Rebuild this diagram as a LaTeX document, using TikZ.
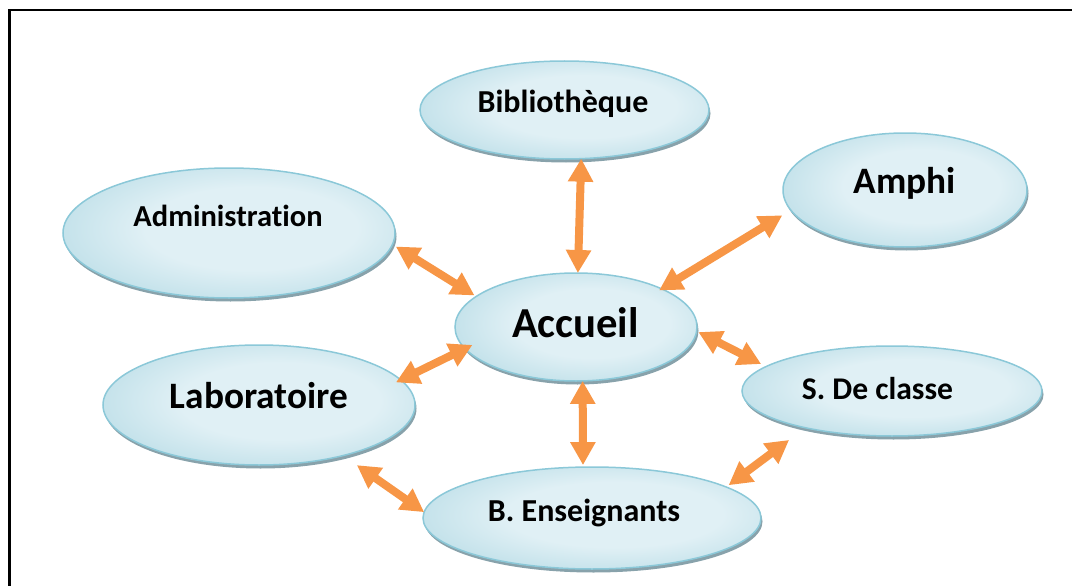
\documentclass[tikz,border=0pt]{standalone}
\usepackage{fontspec}
\setmainfont{Carlito}[Ligatures=NoCommon]
\usetikzlibrary{shapes.geometric,arrows.meta,shadows}

\definecolor{bubbleedge}{RGB}{160,208,221}
\definecolor{bubblemid}{RGB}{224,240,245}
\definecolor{bubbleline}{RGB}{139,200,216}
\definecolor{bubbleshadow}{RGB}{136,162,171}
\definecolor{linkorange}{RGB}{247,150,70}

% light centre fading to a deeper blue near the rim
\pgfdeclareradialshading{bubbleshade}{\pgfpoint{4bp}{2bp}}{color(0bp)=(bubblemid); color(16bp)=(bubblemid); color(44bp)=(bubbleedge); color(50bp)=(bubbleedge); color(100bp)=(bubbleedge)}

\begin{document}
\begin{tikzpicture}[x=1pt,y=-1pt,
  bubble/.style={ellipse, draw=bubbleline, line width=1.5pt, shade, shading=bubbleshade,
    inner sep=0pt, outer sep=0pt,
    drop shadow={shadow xshift=1.5pt, shadow yshift=-3.5pt, fill=bubbleshadow, opacity=1}},
  caption/.style={anchor=base, inner sep=0pt},
  link/.style={linkorange, line width=8pt,
    {Triangle[length=23pt,width=24pt]}-{Triangle[length=23pt,width=24pt]}}
]
\useasboundingbox (0,0) rectangle (1072,586);

% frame
\draw[line width=2.2pt] (9.5,600) -- (9.5,10) -- (1090,10);

% bubbles
\node[bubble, minimum width=289pt, minimum height=98pt]  (bib) at (564.5,110) {};
\node[bubble, minimum width=332pt, minimum height=130pt] (adm) at (229,233) {};
\node[bubble, minimum width=244pt, minimum height=114pt] (amp) at (905,190) {};
\node[bubble, minimum width=242pt, minimum height=108pt] (acc) at (576,327) {};
\node[bubble, minimum width=312pt, minimum height=120pt] (lab) at (259,405) {};
\node[bubble, minimum width=300pt, minimum height=90pt]  (scl) at (892,391) {};
\node[bubble, minimum width=338pt, minimum height=102pt] (ben) at (592,518) {};

% captions
\node[caption, font=\fontsize{32}{36}\selectfont\bfseries]   (tbib) at (563,112.7) {Bibliothèque};
\node[caption, font=\fontsize{30.5}{36}\selectfont\bfseries] (tadm) at (228,226)   {Administration};
\node[caption, font=\fontsize{37.3}{42}\selectfont\bfseries] (tamp) at (905,193)   {Amphi};
\node[caption, font=\fontsize{42.7}{48}\selectfont\bfseries] (tacc) at (575.5,337) {Accueil};
\node[caption, font=\fontsize{37.3}{42}\selectfont\bfseries] (tlab) at (259,408)   {Laboratoire};
\node[caption, font=\fontsize{31.6}{36}\selectfont\bfseries] (tscl) at (877.5,399) {S. De classe};
\node[caption, font=\fontsize{32}{36}\selectfont\bfseries]   (tben) at (584,521)   {B. Enseignants};

% two-way links
\draw[link] (bib.-71) -- (acc.88);
\draw[link, shorten <=10pt, shorten >=-3pt] (amp.190) -- (acc.24.5);
\draw[link, shorten <=4pt, shorten >=2pt] (adm.-4.9) -- (acc.163.5);
\draw[link, shorten <=-5.4pt, shorten >=-8.2pt] (lab.10.5) -- (acc.191.5);
\draw[link, shorten <=2pt, shorten >=5.6pt] (acc.-2.9) -- (scl.169);
\draw[link, shorten >=2pt] (acc.-83.8) -- (ben.100);
\draw[link, shorten <=16.8pt] (lab.-31.8) -- (ben.178.3);
\draw[link, shorten <=20.4pt, shorten >=3pt] (scl.203.7) -- (ben.13.2);
\end{tikzpicture}
\end{document}
